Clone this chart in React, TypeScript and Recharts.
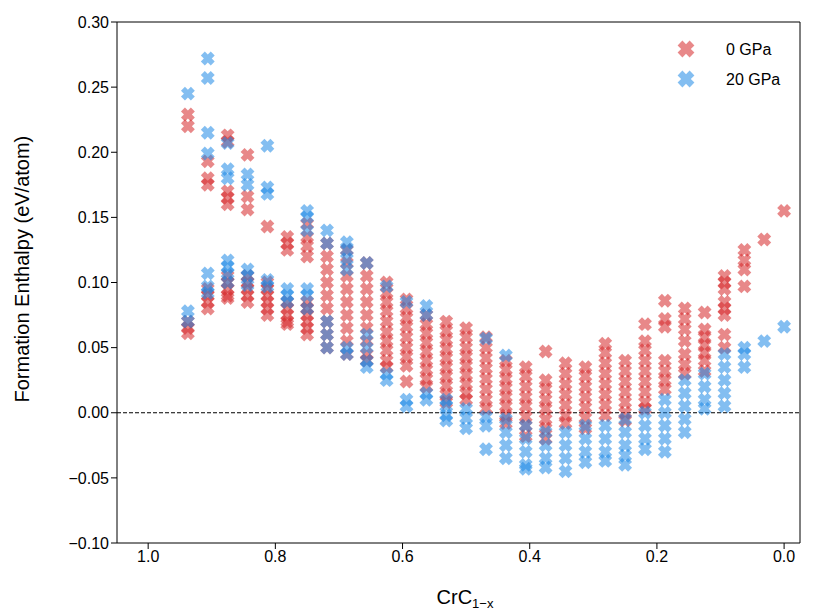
import React from "react";
import {
  ScatterChart,
  Scatter,
  XAxis,
  YAxis,
  ReferenceLine,
} from "recharts";

// carbon fraction columns (k/32) and formation enthalpies read per column
const compositions = [
  0.9375, 0.90625, 0.875, 0.84375, 0.8125, 0.78125, 0.75, 0.71875, 0.6875,
  0.65625, 0.625, 0.59375, 0.5625, 0.53125, 0.5, 0.46875, 0.4375, 0.40625,
  0.375, 0.34375, 0.3125, 0.28125, 0.25, 0.21875, 0.1875, 0.15625, 0.125,
  0.09375, 0.0625, 0.03125, 0,
];

const enthalpy0 = [
  [0.229, 0.22, 0.07, 0.065, 0.061],
  [0.193, 0.18, 0.175, 0.095, 0.09, 0.085, 0.08],
  [0.213, 0.208, 0.17, 0.165, 0.16, 0.105, 0.1, 0.095, 0.09, 0.088],
  [0.198, 0.166, 0.156, 0.105, 0.1, 0.095, 0.09, 0.085],
  [0.143, 0.1, 0.095, 0.09, 0.085, 0.08, 0.075],
  [0.135, 0.13, 0.125, 0.085, 0.08, 0.075, 0.07, 0.068],
  [0.145, 0.135, 0.128, 0.12, 0.085, 0.08, 0.075, 0.07, 0.065, 0.06],
  [0.13, 0.12, 0.11, 0.1, 0.09, 0.08, 0.07, 0.06, 0.05],
  [0.125, 0.115, 0.105, 0.095, 0.085, 0.075, 0.065, 0.055, 0.045],
  [0.115, 0.105, 0.095, 0.085, 0.075, 0.065, 0.055, 0.045, 0.04],
  [0.1, 0.092, 0.085, 0.078, 0.07, 0.062, 0.055, 0.048, 0.04, 0.035],
  [0.087, 0.08, 0.073, 0.066, 0.058, 0.05, 0.043, 0.036, 0.024],
  [0.075, 0.068, 0.061, 0.054, 0.047, 0.04, 0.033, 0.026, 0.02],
  [0.07, 0.063, 0.056, 0.049, 0.042, 0.035, 0.028, 0.021, 0.014, 0.008],
  [0.065, 0.058, 0.05, 0.043, 0.036, 0.029, 0.022, 0.015, 0.01],
  [0.058, 0.05, 0.042, 0.034, 0.026, 0.018, 0.01, 0.003],
  [0.04, 0.033, 0.026, 0.019, 0.012, 0.005, -0.002, -0.008],
  [0.035, 0.028, 0.02, 0.012, 0.005, -0.003, -0.01, -0.018],
  [0.047, 0.025, 0.018, 0.01, 0.003, -0.005, -0.012, -0.02],
  [0.038, 0.03, 0.022, 0.014, 0.006, -0.002, -0.008],
  [0.035, 0.028, 0.02, 0.012, 0.004, -0.004, -0.012],
  [0.053, 0.046, 0.038, 0.03, 0.022, 0.014, 0.006, -0.002],
  [0.04, 0.032, 0.024, 0.016, 0.008, 0.0, -0.006],
  [0.068, 0.055, 0.048, 0.04, 0.032, 0.024, 0.016, 0.008, 0.003],
  [0.086, 0.072, 0.066, 0.04, 0.032, 0.025, 0.018],
  [0.08, 0.072, 0.064, 0.055, 0.045, 0.037, 0.03],
  [0.077, 0.064, 0.058, 0.052, 0.046, 0.04, 0.032],
  [0.105, 0.1, 0.095, 0.085, 0.08, 0.075, 0.06, 0.05],
  [0.125, 0.117, 0.11, 0.097],
  [0.133],
  [0.155],
];

const enthalpy20 = [
  [0.245, 0.078, 0.07],
  [0.272, 0.257, 0.215, 0.199, 0.107, 0.097, 0.092],
  [0.207, 0.187, 0.18, 0.117, 0.112, 0.107, 0.1],
  [0.183, 0.175, 0.11, 0.105, 0.098],
  [0.205, 0.173, 0.168, 0.102, 0.097],
  [0.095, 0.09, 0.085],
  [0.155, 0.15, 0.14, 0.095, 0.09, 0.08],
  [0.14, 0.13, 0.07, 0.06, 0.05],
  [0.131, 0.125, 0.118, 0.11, 0.05, 0.045],
  [0.115, 0.06, 0.05, 0.04, 0.035],
  [0.097, 0.03, 0.025],
  [0.085, 0.01, 0.005],
  [0.082, 0.075, 0.015, 0.01],
  [0.01, 0.005, -0.002, -0.006],
  [0.003, -0.004, -0.012],
  [0.057, -0.003, -0.01, -0.028],
  [0.044, -0.005, -0.015, -0.025, -0.035],
  [-0.01, -0.02, -0.03, -0.04, -0.043],
  [-0.015, -0.025, -0.035, -0.042],
  [-0.015, -0.025, -0.035, -0.045],
  [-0.01, -0.02, -0.03, -0.038],
  [-0.01, -0.02, -0.03, -0.037],
  [-0.005, -0.015, -0.025, -0.033, -0.04],
  [0.0, -0.01, -0.02, -0.028],
  [0.01, 0.0, -0.01, -0.02, -0.03],
  [0.025, 0.015, 0.005, -0.005, -0.015],
  [0.03, 0.02, 0.01, 0.003],
  [0.045, 0.035, 0.025, 0.015, 0.005],
  [0.05, 0.045, 0.035],
  [0.055],
  [0.066],
];

const xTicks = [0, 0.2, 0.4, 0.6, 0.8, 1.0];
const xMinor = [0, 0.05, 0.1, 0.15, 0.2, 0.25, 0.3, 0.35, 0.4, 0.45, 0.5, 0.55, 0.6, 0.65, 0.7, 0.75, 0.8, 0.85, 0.9, 0.95, 1.0];
const yTicks = [-0.1, -0.05, 0, 0.05, 0.1, 0.15, 0.2, 0.25, 0.3];
const yMinor = Array.from({ length: 41 }, (_, i) => Math.round((-0.1 + i * 0.01) * 1000) / 1000);

const RED = "rgb(214,39,40)";
const BLUE = "rgb(30,136,229)";

const toPoints = (cols: number[][]) =>
  cols.flatMap((ys, i) => ys.map((y) => ({ x: compositions[i], y })));

const xPath = (cx: number, cy: number, a: number, b: number) => {
  const pts: number[][] = [
    [b, a], [b, b], [a, b], [a, -b], [b, -b], [b, -a],
    [-b, -a], [-b, -b], [-a, -b], [-a, b], [-b, b], [-b, a],
  ];
  const c = Math.SQRT1_2;
  return (
    pts
      .map(([px, py], i) => {
        const rx = (px - py) * c + cx;
        const ry = (px + py) * c + cy;
        return `${i ? "L" : "M"}${rx.toFixed(2)},${ry.toFixed(2)}`;
      })
      .join("") + "Z"
  );
};

const makeShape = (color: string) => (props: any) => (
  <path d={xPath(props.cx, props.cy, 7, 2.8)} fill={color} fillOpacity={0.55} stroke="none" />
);

const fmtY = (v: number) => (v < 0 ? "\u2212" + Math.abs(v).toFixed(2) : v.toFixed(2));

const font = "Liberation Sans, Arial, sans-serif";
const noLabel = () => <g />;

const LegendBox = () => (
  <svg width={140} height={70} style={{ position: "absolute", left: 670, top: 31, fontFamily: font }}>
    <path d={xPath(16, 18, 8.5, 3.4)} fill={RED} fillOpacity={0.55} />
    <text x={56} y={24} fontSize={16} fill="#000">0 GPa</text>
    <path d={xPath(16, 48, 8.5, 3.4)} fill={BLUE} fillOpacity={0.55} />
    <text x={56} y={54} fontSize={16} fill="#000">20 GPa</text>
  </svg>
);

export default function App() {
  const p0 = toPoints(enthalpy0);
  const p20 = toPoints(enthalpy20);
  const domX: [number, number] = [-0.025, 1.049];
  const domY: [number, number] = [-0.1, 0.3];
  return (
    <div style={{ position: "absolute", left: 0, top: 0, width: 813, height: 610, fontFamily: font }}>
      <ScatterChart width={813} height={610} margin={{ top: 21, right: 12, left: 56, bottom: 26 }}>
        <XAxis
          xAxisId="main"
          type="number"
          dataKey="x"
          domain={domX}
          reversed
          ticks={xTicks}
          tickFormatter={(v: number) => v.toFixed(1)}
          tick={{ fontSize: 16, fill: "#000" }}
          stroke="#000"
          tickSize={6}
          height={40}
          allowDataOverflow
          label={() => (
            <text x={465} y={604} textAnchor="middle" fontSize={20} fill="#000">
              CrC<tspan fontSize={13} dy={4}>1−x</tspan>
            </text>
          )}
        />
        <XAxis
          xAxisId="minor"
          type="number"
          domain={domX}
          reversed
          ticks={xMinor}
          tick={noLabel}
          tickSize={3}
          stroke="#000"
          height={1}
          allowDataOverflow
          axisLine={false}
        />
        <XAxis xAxisId="top" orientation="top" type="number" domain={domX} tick={false} tickLine={false} height={1} stroke="#000" />
        <YAxis
          yAxisId="main"
          type="number"
          dataKey="y"
          domain={domY}
          ticks={yTicks}
          tickFormatter={fmtY}
          tick={{ fontSize: 16, fill: "#000" }}
          stroke="#000"
          tickSize={6}
          width={60}
          allowDataOverflow
          label={{ value: "Formation Enthalpy (eV/atom)", angle: -90, position: "insideLeft", dx: -40, dy: 120, fontSize: 20, fill: "#000" }}
        />
        <YAxis
          yAxisId="minor"
          type="number"
          domain={domY}
          ticks={yMinor}
          tick={noLabel}
          tickSize={3}
          width={1}
          axisLine={false}
          stroke="#000"
        />
        <YAxis yAxisId="right" orientation="right" type="number" domain={domY} tick={false} tickLine={false} width={1} stroke="#000" />
        <ReferenceLine xAxisId="main" yAxisId="main" y={0} stroke="#000" strokeDasharray="4 2" strokeWidth={1.2} />
        <Scatter xAxisId="main" yAxisId="main" name="0 GPa" data={p0} shape={makeShape(RED)} isAnimationActive={false} />
        <Scatter xAxisId="main" yAxisId="main" name="20 GPa" data={p20} shape={makeShape(BLUE)} isAnimationActive={false} />
      </ScatterChart>
      <LegendBox />
    </div>
  );
}
